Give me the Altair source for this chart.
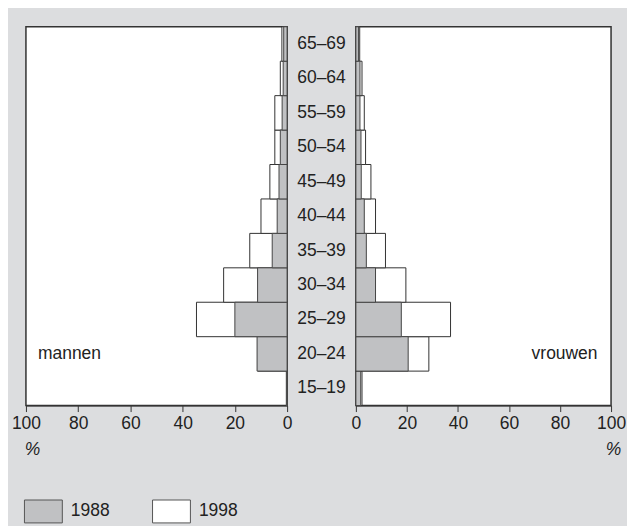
import altair as alt
import pandas as pd

ages = ["15–19", "20–24", "25–29", "30–34", "35–39", "40–44",
        "45–49", "50–54", "55–59", "60–64", "65–69"]
men_1988 = [0.3, 11.5, 20.0, 11.3, 5.7, 3.8, 3.1, 2.6, 1.9, 1.5, 1.3]
men_1998 = [0.2, 11.2, 34.7, 24.3, 14.3, 10.0, 6.6, 4.7, 4.7, 2.6, 2.0]
women_1988 = [1.9, 20.5, 17.8, 7.7, 4.1, 3.3, 2.1, 2.0, 1.6, 1.6, 1.0]
women_1998 = [2.4, 28.6, 37.1, 19.6, 11.6, 7.7, 5.9, 3.8, 3.3, 2.4, 1.5]
years = ["1988", "1998"]
sexes = ["mannen", "vrouwen"]
ticks = [0, 20, 40, 60, 80, 100]

rows = []
for i, a in enumerate(ages):
    rows.append(dict(age=a, sex="mannen", year="1998", value=men_1998[i]))
    rows.append(dict(age=a, sex="vrouwen", year="1998", value=women_1998[i]))
for i, a in enumerate(ages):
    rows.append(dict(age=a, sex="mannen", year="1988", value=men_1988[i]))
    rows.append(dict(age=a, sex="vrouwen", year="1988", value=women_1988[i]))
df = pd.DataFrame(rows)

FONT = "Liberation Sans"
FS = 17.5
ages_top_down = ages[::-1]

yenc = alt.Y("age:N", sort=ages_top_down,
             scale=alt.Scale(paddingInner=0, paddingOuter=0), axis=None)
color = alt.Color(
    "year:N",
    scale=alt.Scale(domain=years, range=["#c0c1c3", "#ffffff"]),
    legend=alt.Legend(
        title=None, orient="none", legendX=7.5, legendY=476,
        direction="horizontal",
        symbolType="M-2,-1.21H2V1.21H-2Z", symbolSize=361,
        symbolStrokeColor="#555555", symbolStrokeWidth=1,
        labelFont=FONT, labelFontSize=FS, labelColor="#222222",
        labelOffset=17.5, columnPadding=40.5,
    ),
)


def panel(sex, reverse, label, label_x, align, width, title_x):
    xenc = alt.X(
        "value:Q",
        scale=alt.Scale(domain=[0, 100], reverse=reverse, nice=False),
        axis=alt.Axis(values=ticks, title="%", titleX=title_x, titleY=49,
                      titleBaseline="alphabetic", titleAlign="center",
                      titleAnchor="start", labelFlush=False),
    )
    base = alt.Chart(df).transform_filter(alt.datum.sex == sex)
    b98 = base.transform_filter(alt.datum.year == "1998").mark_bar(
        stroke="#333333", strokeWidth=1).encode(x=xenc, y=yenc, color=color)
    b88 = base.transform_filter(alt.datum.year == "1988").mark_bar(
        stroke="#444444", strokeWidth=1).encode(x=xenc, y=yenc, color=color)
    lab = alt.Chart(pd.DataFrame({"label": [label], "value": [label_x], "age": ["20–24"]})).mark_text(
        align=align, baseline="middle", font=FONT, fontSize=FS, color="#222222"
    ).encode(x=alt.X("value:Q"), y=yenc, text="label:N")
    return alt.layer(b98, b88, lab).properties(
        width=width, height=380,
        view=alt.ViewBackground(fill="#ffffff", stroke="#333333", strokeWidth=1.5),
    )


left = panel("mannen", True, "mannen", 95.4, "left", 262, 6)
right = panel("vrouwen", False, "vrouwen", 94.7, "right", 256, 258)

mid = alt.Chart(pd.DataFrame({"age": ages})).mark_text(
    font=FONT, fontSize=FS, color="#222222", baseline="middle"
).encode(y=yenc, text="age:N").properties(
    width=69, height=380,
    view=alt.ViewBackground(fill="transparent", stroke="transparent"),
)

chart = alt.hconcat(left, mid, right, spacing=0, bounds="flush").resolve_scale(
    color="shared"
).properties(
    background="#dcdddf",
    padding={"left": 2, "top": 16, "right": 0, "bottom": 0},
).configure_axis(
    grid=False, tickSize=6, tickColor="#333333", domainColor="#333333",
    labelFont=FONT, labelFontSize=FS, labelColor="#222222", labelPadding=3,
    titleFont=FONT, titleFontSize=FS, titleFontStyle="italic",
    titleFontWeight="normal", titleColor="#222222",
).configure_view(stroke="#333333")

chart.save("out.html", embed_options={"renderer": "svg", "actions": False})
